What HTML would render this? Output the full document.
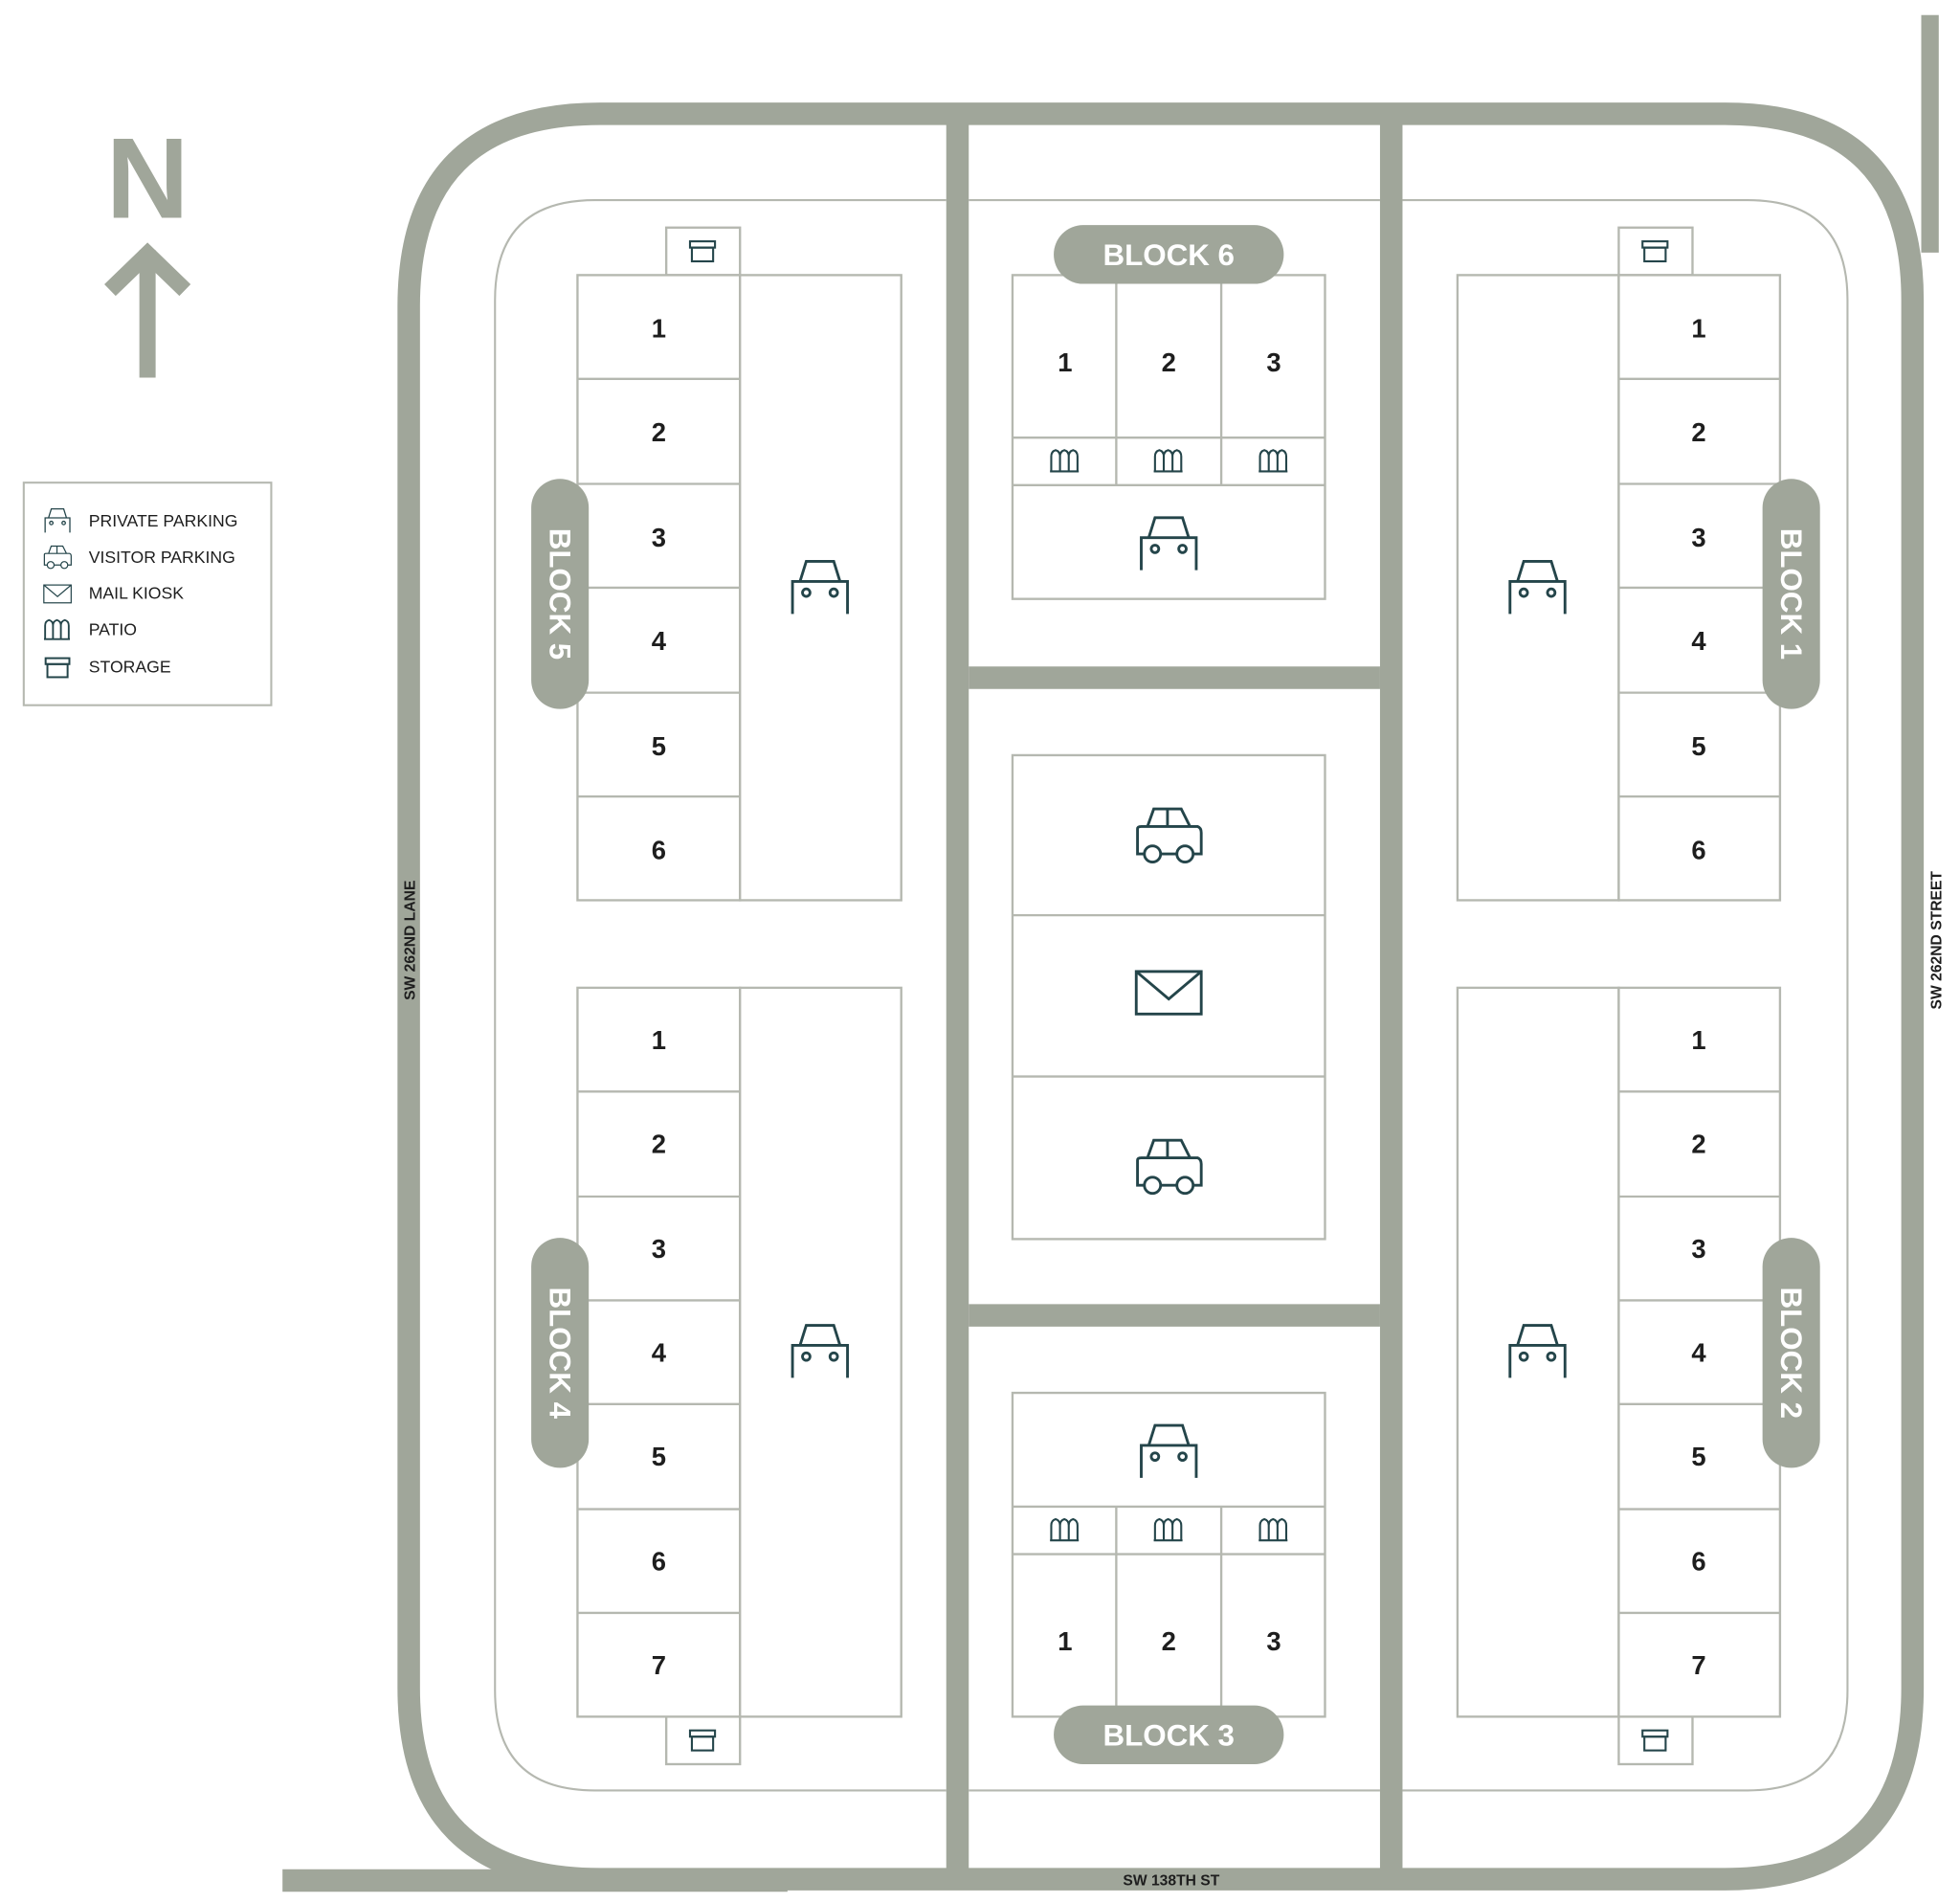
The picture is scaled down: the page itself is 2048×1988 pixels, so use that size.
<!DOCTYPE html>
<html><head><meta charset="utf-8"><style>
html,body{margin:0;padding:0;background:#fff;}
svg{display:block;}
text{font-family:"Liberation Sans",sans-serif;}
</style></head><body>
<svg width="2048" height="1988" viewBox="0 0 1568 1522" xmlns="http://www.w3.org/2000/svg">
<defs>
<g id="pcar" fill="none" stroke="#24454a" stroke-width="2.2">
<path d="M-22,22 V-4 H22 V22 M-16,-4 L-11,-20 H11 L16,-4"/>
<circle cx="-11" cy="5" r="3"/><circle cx="11" cy="5" r="3"/>
</g>
<g id="vcar" fill="none" stroke="#24454a" stroke-width="2.2">
<path d="M-19,14 H-25 V-6 Q-25,-8 -22,-8 H-17 L-12,-22 H10 L17,-8 H23 Q26,-7 26,-3 V14 H19 M-7,14 H7 M-1,-22 V-8 M-17,-8 H17"/>
<circle cx="-13" cy="14" r="6.5"/><circle cx="13" cy="14" r="6.5"/>
</g>
<g id="mail" fill="none" stroke="#24454a" stroke-width="2.2">
<rect x="-26" y="-17" width="52" height="34"/><path d="M-26,-17 L0,5 L26,-17"/>
</g>
<g id="patio" fill="none" stroke="#24454a" stroke-width="1.6">
<path d="M-11,8 V-4 Q-11,-8 -7.5,-9 Q-4,-8 -4,-4 V8 M-4,-4 Q-4,-8 -0.5,-9 Q3,-8 3,-4 V8 M3,-4 Q3,-8 6.5,-9 Q10,-8 10,-4 V8 M-12,8 H11"/>
</g>
<g id="stor" fill="none" stroke="#24454a" stroke-width="1.6">
<rect x="-10" y="-8" width="20" height="5"/><rect x="-8.5" y="-3" width="17" height="11"/>
</g>
</defs>

<g fill="none" stroke="#a0a69a" stroke-width="18">
<path d="M766,1503 H480 Q327,1503 327,1350 V245 Q327,91 480,91 H1380 Q1530,91 1530,240 V1350 Q1530,1503 1380,1503 H766"/>
<line x1="766" y1="91" x2="766" y2="1503"/>
<line x1="1113" y1="91" x2="1113" y2="1503"/>
<line x1="775" y1="542" x2="1104" y2="542"/>
<line x1="775" y1="1052" x2="1104" y2="1052"/>
<line x1="226" y1="1504" x2="630" y2="1504"/>
</g>
<rect x="1537" y="12" width="14" height="190" fill="#a0a69a"/>

<g fill="none" stroke="#b5b8b0" stroke-width="1.6">
<path d="M757,160 H476 Q396,160 396,240 V1352 Q396,1432 476,1432 H757"/>
<path d="M1122,160 H1398 Q1478,160 1478,240 V1352 Q1478,1432 1398,1432 H1122"/>
<line x1="775" y1="160" x2="1104" y2="160"/>
<line x1="775" y1="1432" x2="1104" y2="1432"/>
</g>

<g fill="#fff" stroke="#b5b8b0" stroke-width="1.8">
<rect x="533" y="182" width="59" height="38"/>
<rect x="462" y="220" width="130" height="500"/><rect x="592" y="220" width="129" height="500"/>
<path d="M462,303 H592 M462,387 H592 M462,470 H592 M462,554 H592 M462,637 H592"/>
<rect x="533" y="1373" width="59" height="38"/>
<rect x="462" y="790" width="130" height="583"/><rect x="592" y="790" width="129" height="583"/>
<path d="M462,873 H592 M462,957 H592 M462,1040 H592 M462,1123 H592 M462,1207 H592 M462,1290 H592"/>
<rect x="1295" y="182" width="59" height="38"/>
<rect x="1166" y="220" width="129" height="500"/><rect x="1295" y="220" width="129" height="500"/>
<path d="M1295,303 H1424 M1295,387 H1424 M1295,470 H1424 M1295,554 H1424 M1295,637 H1424"/>
<rect x="1295" y="1373" width="59" height="38"/>
<rect x="1166" y="790" width="129" height="583"/><rect x="1295" y="790" width="129" height="583"/>
<path d="M1295,873 H1424 M1295,957 H1424 M1295,1040 H1424 M1295,1123 H1424 M1295,1207 H1424 M1295,1290 H1424"/>
<rect x="810" y="220" width="250" height="259"/>
<path d="M893,220 V388 M977,220 V388 M810,350 H1060 M810,388 H1060"/>
<rect x="810" y="604" width="250" height="387"/>
<path d="M810,732 H1060 M810,861 H1060"/>
<rect x="810" y="1114" width="250" height="259"/>
<path d="M893,1205 V1373 M977,1205 V1373 M810,1205 H1060 M810,1243 H1060"/>
</g>

<use href="#stor" x="562" y="201"/><use href="#stor" x="562" y="1392"/>
<use href="#stor" x="1324" y="201"/><use href="#stor" x="1324" y="1392"/>
<use href="#pcar" x="656" y="469"/><use href="#pcar" x="656" y="1080"/>
<use href="#pcar" x="1230" y="469"/><use href="#pcar" x="1230" y="1080"/>
<use href="#pcar" x="935" y="434"/><use href="#pcar" x="935" y="1160"/>
<use href="#vcar" x="935" y="669"/><use href="#vcar" x="935" y="934"/>
<use href="#mail" x="935" y="794"/>
<use href="#patio" x="852" y="369"/><use href="#patio" x="935" y="369"/><use href="#patio" x="1019" y="369"/>
<use href="#patio" x="852" y="1224"/><use href="#patio" x="935" y="1224"/><use href="#patio" x="1019" y="1224"/>

<g font-size="21" font-weight="bold" fill="#1e1e1e" text-anchor="middle">
<text x="527" y="270">1</text><text x="527" y="353">2</text><text x="527" y="437">3</text><text x="527" y="520">4</text><text x="527" y="604">5</text><text x="527" y="687">6</text>
<text x="527" y="839">1</text><text x="527" y="922">2</text><text x="527" y="1006">3</text><text x="527" y="1089">4</text><text x="527" y="1172">5</text><text x="527" y="1256">6</text><text x="527" y="1339">7</text>
<text x="1359" y="270">1</text><text x="1359" y="353">2</text><text x="1359" y="437">3</text><text x="1359" y="520">4</text><text x="1359" y="604">5</text><text x="1359" y="687">6</text>
<text x="1359" y="839">1</text><text x="1359" y="922">2</text><text x="1359" y="1006">3</text><text x="1359" y="1089">4</text><text x="1359" y="1172">5</text><text x="1359" y="1256">6</text><text x="1359" y="1339">7</text>
<text x="852" y="297">1</text><text x="935" y="297">2</text><text x="1019" y="297">3</text>
<text x="852" y="1320">1</text><text x="935" y="1320">2</text><text x="1019" y="1320">3</text>
</g>

<g fill="#a0a69a">
<rect x="843" y="180" width="184" height="47" rx="23.5"/>
<rect x="843" y="1364" width="184" height="47" rx="23.5"/>
<rect x="425" y="383" width="46" height="184" rx="23"/>
<rect x="425" y="990" width="46" height="184" rx="23"/>
<rect x="1410" y="383" width="46" height="184" rx="23"/>
<rect x="1410" y="990" width="46" height="184" rx="23"/>
</g>
<g font-size="24" font-weight="bold" fill="#fff" text-anchor="middle">
<text x="935" y="212">BLOCK 6</text>
<text x="935" y="1396">BLOCK 3</text>
<text transform="translate(440,475) rotate(90)">BLOCK 5</text>
<text transform="translate(440,1082) rotate(90)">BLOCK 4</text>
<text transform="translate(1425,475) rotate(90)">BLOCK 1</text>
<text transform="translate(1425,1082) rotate(90)">BLOCK 2</text>
</g>

<g font-size="12" font-weight="bold" fill="#1e1e1e" text-anchor="middle">
<text transform="translate(332,752) rotate(-90)">SW 262ND LANE</text>
<text transform="translate(1553,752) rotate(-90)">SW 262ND STREET</text>
<text x="937" y="1508">SW 138TH ST</text>
</g>

<text x="118" y="174" font-size="92" font-weight="bold" fill="#a0a69a" text-anchor="middle">N</text>
<g stroke="#a0a69a" stroke-width="13" fill="none">
<line x1="118" y1="200" x2="118" y2="302"/>
<path d="M88,232 L118,203 L148,232"/>
</g>

<rect x="19" y="386" width="198" height="178" fill="#fff" stroke="#b5b8b0" stroke-width="1.6"/>
<g transform="translate(46,416) scale(0.45)"><use href="#pcar"/></g>
<g transform="translate(46,446) scale(0.42)"><use href="#vcar"/></g>
<g transform="translate(46,475) scale(0.42)"><use href="#mail"/></g>
<g transform="translate(46,504) scale(0.9)"><use href="#patio"/></g>
<g transform="translate(46,534) scale(0.95)"><use href="#stor"/></g>
<g font-size="13.5" fill="#1e1e1e">
<text x="71" y="421">PRIVATE PARKING</text>
<text x="71" y="450">VISITOR PARKING</text>
<text x="71" y="479">MAIL KIOSK</text>
<text x="71" y="508">PATIO</text>
<text x="71" y="538">STORAGE</text>
</g>
</svg>
</body></html>
